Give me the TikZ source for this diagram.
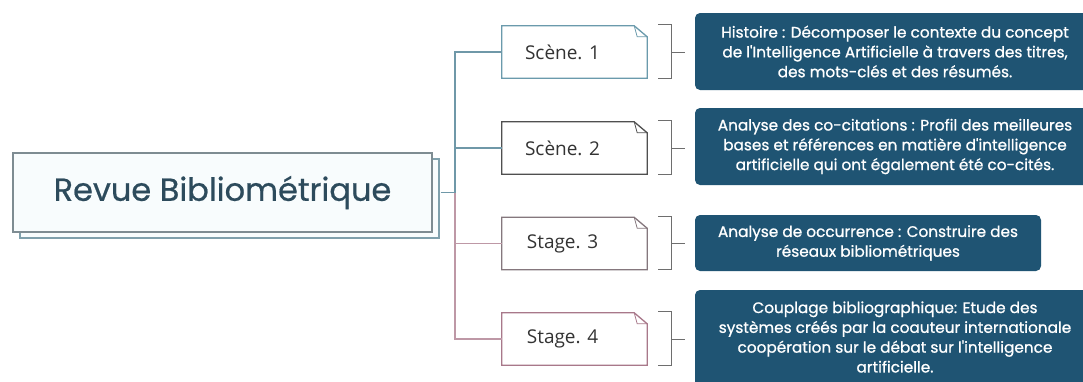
\documentclass[tikz,border=0pt]{standalone}
\usepackage{fontspec}
\setmainfont{Poppins}
\newfontfamily\labelfont{Open Sans}
\newfontfamily\darkfont{Poppins}[FakeBold=0.9]
\newfontfamily\titlefont{Poppins}[FakeBold=0.6]
\usetikzlibrary{shadows}
\definecolor{darkbox}{HTML}{1F5473}
\definecolor{titlecol}{HTML}{2D4B5C}
\definecolor{mainborder}{HTML}{7E8C92}
\definecolor{shadowborder}{HTML}{7FA0AC}
\definecolor{mainfill}{HTML}{F8FCFD}
\definecolor{connteal}{HTML}{6F98A8}
\definecolor{connpink}{HTML}{BE98A6}
\definecolor{sOne}{HTML}{6A9AAC}
\definecolor{sTwo}{HTML}{4F4F4F}
\definecolor{sThree}{HTML}{85777D}
\definecolor{sFour}{HTML}{A8788A}
\definecolor{brkcol}{HTML}{6E6E6E}
\tikzset{
  mainbox/.style={draw=mainborder, line width=1.2pt, fill=mainfill, minimum width=419pt, minimum height=79pt, inner sep=0pt,
    text=titlecol, font=\titlefont\fontsize{32}{36}\selectfont,
    copy shadow={shadow xshift=7pt, shadow yshift=-6pt, draw=shadowborder, fill=mainfill, line width=1.2pt}},
  stagebox/.style={minimum width=145pt, minimum height=52pt, inner sep=0pt, text=black!80,
    font=\labelfont\fontsize{19}{22}\selectfont, execute at end node={\hspace*{24pt}}},
  darkbox/.style={fill=darkbox, rounded corners=5pt, text=white, align=center, inner sep=0pt,
    font=\darkfont\fontsize{15.3}{19.8}\selectfont},
  connT/.style={connteal, line width=1.1pt},
  connP/.style={connpink, line width=1.1pt},
  brk/.style={brkcol, line width=1pt},
}
\newcommand\foldbox[2]{%
  \draw[#2, line width=1.3pt] (#1.north west) -- ([xshift=-13pt]#1.north east) -- ([yshift=-11pt]#1.north east) -- (#1.south east) -- (#1.south west) -- cycle;
  \draw[#2, line width=0.8pt] ([xshift=-13pt]#1.north east) -- ([xshift=-10pt,yshift=-11pt]#1.north east) -- ([yshift=-11pt]#1.north east);}
\newcommand\brkt[2]{%
  \draw[brk] ([xshift=11pt,yshift=1pt]#1.north east) -- ([xshift=24pt,yshift=1pt]#1.north east) -- ([xshift=24pt]#1.south east) -- ([xshift=11pt]#1.south east);
  \draw[brk] ([xshift=24pt]#1.east) -- ([xshift=-10pt]#2.west |- #1.east);}
\begin{document}
\begin{tikzpicture}[x=1pt,y=-1pt]
\useasboundingbox (0,0) rectangle (1083,381);
\fill[white] (0,0) rectangle (1083,381);
\clip (0,0) rectangle (1083,381);

\node[mainbox] (main) at (222.5,192.5) {Revue Bibliométrique};

\node[stagebox] (s1) at (574.5,52) {Scène. 1};
\node[stagebox] (s2) at (574.5,148) {Scène. 2};
\node[stagebox] (s3) at (574.5,243.5) {Stage. 3};
\node[stagebox] (s4) at (574.5,339) {Stage. 4};
\foldbox{s1}{sOne}
\foldbox{s2}{sTwo}
\foldbox{s3}{sThree}
\foldbox{s4}{sFour}

\coordinate (j) at (455,192.5);
\draw[connT] ([xshift=8pt]main.east) -- (j);
\draw[connT] (j) |- (s1.west);
\draw[connT] (j) |- (s2.west);
\draw[connP] (j) |- (s3.west);
\draw[connP] (j) |- (s4.west);

\node[darkbox, minimum width=400pt, minimum height=77pt] (d1) at (895,51.5)
  {Histoire : Décomposer le contexte du concept\\de l'Intelligence Artificielle à travers des titres,\\des mots-clés et des résumés.};
\node[darkbox, minimum width=400pt, minimum height=77pt] (d2) at (895,146.5)
  {Analyse des co-citations : Profil des meilleures\\bases et références en matière d'intelligence\\artificielle qui ont également été co-cités.};
\node[darkbox, minimum width=346pt, minimum height=56pt] (d3) at (868,243)
  {Analyse de occurrence : Construire des\\réseaux bibliométriques};
\fill[darkbox] (695,330) rectangle (1095,395);
\node[darkbox, minimum width=400pt, minimum height=94pt] (d4) at (895,337)
  {Couplage bibliographique: Etude des\\systèmes créés par la coauteur internationale\\coopération sur le débat sur l'intelligence\\artificielle.};

\brkt{s1}{d1}
\brkt{s2}{d2}
\brkt{s3}{d3}
\brkt{s4}{d4}
\end{tikzpicture}
\end{document}
